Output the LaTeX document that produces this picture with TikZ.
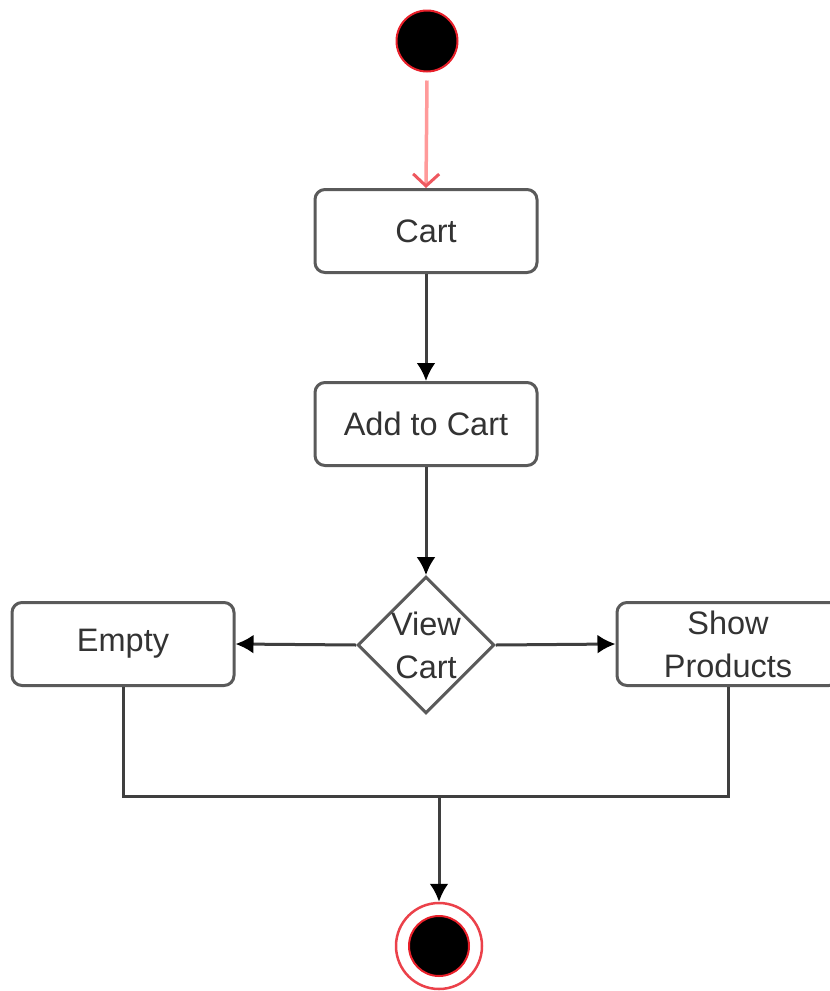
\documentclass[tikz,border=0pt]{standalone}
\usepackage{fontspec}
\setmainfont{Liberation Sans}
\usetikzlibrary{arrows.meta,shapes.geometric,positioning}
\definecolor{edgegray}{HTML}{5A5A5A}
\definecolor{linegray}{HTML}{3F3F3F}
\definecolor{textgray}{HTML}{333333}
\definecolor{startred}{HTML}{E8202A}
\definecolor{flowred}{HTML}{FF9A9A}
\tikzset{
  activity/.style={draw=edgegray, line width=3pt, rounded corners=10pt, fill=white,
    minimum width=222pt, minimum height=83pt, inner sep=0pt, align=center,
    text=textgray, font=\fontsize{32.5}{43}\selectfont},
  decision/.style={draw=edgegray, line width=3pt, diamond, aspect=1, fill=white,
    minimum width=136pt, minimum height=134pt, inner sep=0pt, align=center,
    text=textgray, font=\fontsize{32.5}{43}\selectfont},
  flow/.style={draw=linegray, line width=3pt, -{Latex[length=18pt,width=19pt,color=black]}},
  plainflow/.style={draw=linegray, line width=3pt},
  startflow/.style={draw=flowred, line width=3.5pt, -{Straight Barb[length=12pt,width=26pt,line width=3pt,color=startred!75]}},
  initial/.style={circle, fill=black, draw=startred, line width=2pt, minimum size=61pt, inner sep=0pt},
  finalcore/.style={circle, fill=black, draw=startred, line width=2pt, minimum size=60pt, inner sep=0pt},
  finalring/.style={circle, draw=startred!85, line width=2.5pt, minimum size=86pt, inner sep=0pt}
}
\begin{document}
\begin{tikzpicture}[x=1pt,y=-1pt]
  \clip (0,0) rectangle (830,991);
  \useasboundingbox (0,0) rectangle (830,991);

  % nodes
  \node[initial] (start) at (427,41) {};
  \node[activity] (cart) at (426,231) {Cart};
  \node[activity] (add) at (426,424) {Add to Cart};
  \node[decision] (view) at (426,645) {View\\Cart};
  \node[activity] (empty) at (123,644) {Empty};
  \node[activity] (show) at (728,644) {Show\\Products};
  \node[finalring] (endring) at (439,946) {};
  \node[finalcore] (endcore) at (439,946) {};

  % merge points below the two branches
  \coordinate (joinL) at (empty.south |- 0,796);
  \coordinate (joinR) at (show.south |- 0,796);
  \coordinate (joinM) at (endring.north |- 0,796);

  % connectors
  \draw[startflow] (start.south) ++(0,8) -- (cart.north);
  \draw[flow] (cart) -- (add);
  \draw[flow] (add) -- (view);
  \draw[flow] (view.west) -- (empty.east);
  \draw[flow] (view.east) -- (show.west);
  \draw[plainflow] (empty.south) -- (joinL) -- (joinR) -- (show.south);
  \draw[flow] (joinM) -- (endring.north);
\end{tikzpicture}
\end{document}
